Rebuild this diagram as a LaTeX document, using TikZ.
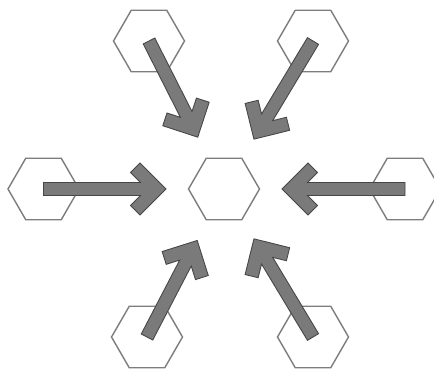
\documentclass[tikz,border=0pt]{standalone}
\usepackage{tikz}
\usetikzlibrary{shapes.geometric, calc}
\definecolor{hexgray}{RGB}{125,125,125}
\definecolor{arrgray}{RGB}{122,122,122}
\definecolor{arrdark}{RGB}{70,70,70}
\tikzset{
  hexcell/.style={regular polygon, regular polygon sides=6, draw=hexgray,
    fill=white, minimum size=14.2mm, inner sep=0pt, outer sep=0pt, line width=0.8pt},
  fatarrow/.style={fill=arrgray, draw=arrdark, line width=0.5pt, line join=miter}
}
% thick arrow from the centre of #1 to #2
\newcommand{\pusharrow}[2]{%
  \path let \p1=($(#2)-(#1.center)$) in
    \pgfextra{\pgfmathparse{atan2(\y1,\x1)}\xdef\arrang{\pgfmathresult}%
      \pgfmathparse{veclen(\x1,\y1)}\xdef\arrlen{\pgfmathresult}};
  \begin{scope}[shift={(#1.center)}, rotate=\arrang]
    \path[fatarrow] (0pt,1.3mm) -- ({\arrlen pt-5.1mm},1.3mm)
      -- ({\arrlen pt-7.1mm},3.3mm) -- ({\arrlen pt-5.2mm},5.2mm)
      -- (\arrlen pt,0pt) -- ({\arrlen pt-5.2mm},-5.2mm)
      -- ({\arrlen pt-7.1mm},-3.3mm) -- ({\arrlen pt-5.1mm},-1.3mm)
      -- (0pt,-1.3mm) -- cycle;
  \end{scope}}

\begin{document}
\begin{tikzpicture}[x=0.2mm, y=-0.2mm]
  \useasboundingbox (0,0) rectangle (434,369);
  % outer cells
  \node[hexcell] (tl) at (149,41) {};
  \node[hexcell] (tr) at (313,41) {};
  \node[hexcell] (l) at (43.5,189) {};
  \node[hexcell] (r) at (405,189) {};
  \node[hexcell] (bl) at (147,337) {};
  \node[hexcell] (br) at (313,337) {};
  % centre cell
  \node[hexcell] (c) at (224,189) {};
  % arrow tips round the centre
  \foreach \n in {tl, tr, l, r, bl, br}
    \coordinate (tip\n) at ($(c.center)!11.6mm!(\n.center)$);
  % arrows
  \foreach \n in {tl, tr, l, r, bl, br}{
    \edef\doarrow{\noexpand\pusharrow{\n}{tip\n}}\doarrow
  }
\end{tikzpicture}
\end{document}
